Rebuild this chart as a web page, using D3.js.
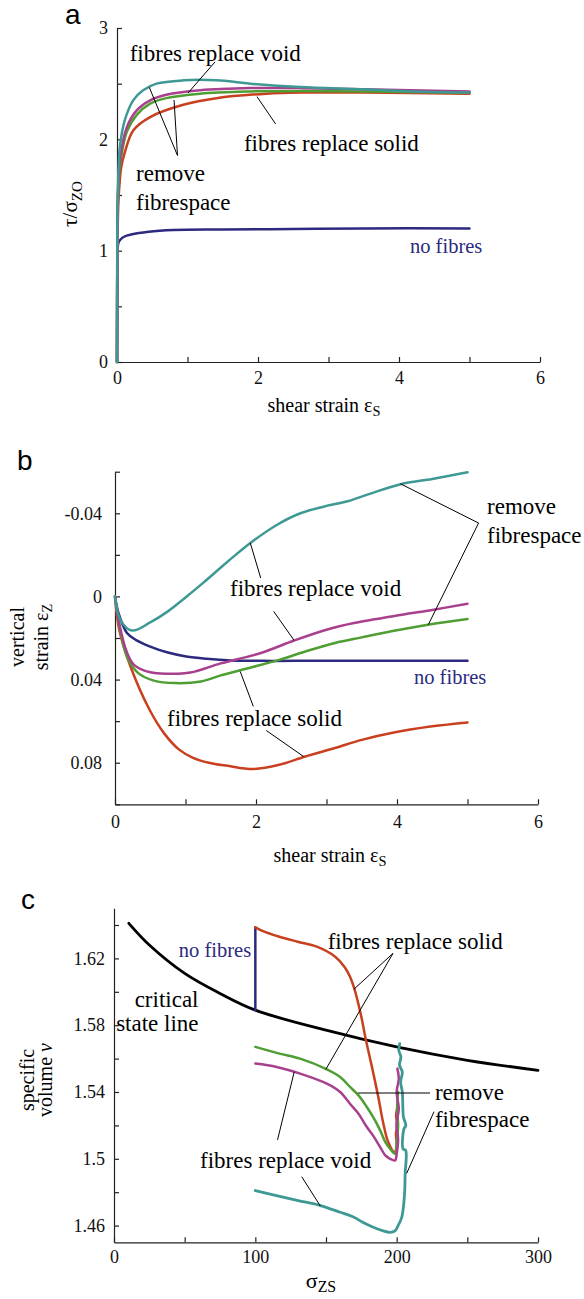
<!DOCTYPE html>
<html><head><meta charset="utf-8">
<script src="https://cdn.jsdelivr.net/npm/d3@7"></script>
<style>body{margin:0;background:#fff}svg{display:block}</style>
</head><body><svg id="chart" width="584" height="1299"></svg>
<script>
// ---------------- DATA ----------------
// Panel a: shear strain vs tau/sigma_zo
const aXTicks = [0,1,2,3,4,5,6];
const aXTickLabels = ["0","","2","","4","","6"];
const aYTicks = [0,0.5,1,1.5,2,2.5,3];
const aYTickLabels = ["0","","1","","2","","3"];
const aNavy = [[0,0],[0.004,0.6],[0.008,1.0],[0.02,1.07],[0.05,1.1],[0.1,1.125],[0.2,1.145],[0.45,1.17],[0.8,1.185],[1.5,1.19],[2.5,1.195],[3.5,1.2],[5,1.2]];
const aRed = [[0,0],[0.005,0.9],[0.015,1.35],[0.03,1.55],[0.06,1.75],[0.11,1.88],[0.23,2.08],[0.47,2.2],[0.94,2.31],[1.41,2.37],[2.12,2.41],[2.6,2.42],[3.5,2.42],[5,2.41]];
const aGreen = [[0,0],[0.005,1.0],[0.015,1.5],[0.04,1.75],[0.14,2.07],[0.28,2.22],[0.47,2.32],[0.7,2.37],[1.18,2.41],[1.89,2.43],[2.6,2.435],[3.5,2.43],[5,2.42]];
const aMagenta = [[0,0],[0.005,1.05],[0.015,1.55],[0.04,1.81],[0.14,2.11],[0.28,2.26],[0.47,2.35],[0.7,2.4],[1.18,2.44],[1.89,2.46],[2.6,2.46],[3.5,2.45],[5,2.43]];
const aTeal = [[0,0],[0.005,1.2],[0.02,1.7],[0.04,1.93],[0.11,2.17],[0.23,2.35],[0.37,2.44],[0.56,2.5],[0.94,2.53],[1.41,2.53],[1.89,2.5],[2.6,2.47],[3.5,2.45],[4.2,2.43],[5,2.42]];

// Panel b: shear strain vs vertical strain
const bXTicks = [0,1,2,3,4,5,6];
const bXTickLabels = ["0","","2","","4","","6"];
const bYTicks = [-0.06,-0.04,-0.02,0,0.02,0.04,0.06,0.08,0.1];
const bYTickLabels = ["","-0.04","","0","","0.04","","0.08",""];
const bNavy = [[0,0],[0.05,0.008],[0.17,0.0176],[0.3,0.021],[0.49,0.024],[0.75,0.027],[1.01,0.0289],[1.3,0.03],[1.65,0.0308],[2.1,0.031],[2.6,0.031],[3.5,0.031],[5,0.0309]];
const bRed = [[0,0],[0.06,0.016],[0.22,0.0337],[0.49,0.0545],[0.7,0.066],[0.91,0.0737],[1.1,0.0775],[1.33,0.08],[1.6,0.0815],[1.96,0.083],[2.33,0.081],[2.7,0.077],[3.12,0.0729],[3.5,0.069],[3.92,0.0657],[4.5,0.0625],[5,0.0606]];
const bGreen = [[0,0],[0.06,0.014],[0.17,0.0289],[0.33,0.0369],[0.55,0.0405],[0.86,0.0417],[1.22,0.0409],[1.5,0.038],[1.8,0.0353],[2.33,0.0305],[2.7,0.0265],[3.12,0.0224],[3.5,0.0197],[3.92,0.0168],[4.44,0.0136],[5,0.0109]];
const bMagenta = [[0,0],[0.06,0.013],[0.17,0.027],[0.27,0.0329],[0.5,0.0365],[0.75,0.0372],[1.07,0.0366],[1.5,0.0322],[2.07,0.0272],[2.54,0.0212],[3,0.016],[3.39,0.0128],[4.07,0.0088],[4.5,0.0065],[5,0.0035]];
const bTeal = [[0,0],[0.08,0.0115],[0.24,0.0164],[0.5,0.0125],[0.75,0.0072],[1.0,0.0005],[1.25,-0.0065],[1.6,-0.0168],[1.92,-0.0257],[2.3,-0.0345],[2.63,-0.04],[2.97,-0.0433],[3.3,-0.0458],[3.6,-0.0492],[4.05,-0.054],[4.5,-0.0565],[5,-0.0597]];

// Panel c: sigma_zs vs specific volume
const cXTicks = [0,50,100,150,200,250,300];
const cXTickLabels = ["0","","100","","200","","300"];
const cYTicks = [1.46,1.48,1.5,1.52,1.54,1.56,1.58,1.6,1.62,1.64];
const cYTickLabels = ["1.46","","1.5","","1.54","","1.58","","1.62",""];
const cCSL = [[10.5,1.641],[25,1.628],[50,1.611],[75,1.599],[100,1.589],[150,1.577],[200,1.567],[250,1.559],[300,1.553]];
const cNavy = [[100,1.589],[100,1.6386]];
const cRed = [[100,1.6386],[105,1.6365],[117,1.633],[130,1.63],[143.5,1.627],[156.5,1.621],[163,1.615],[167,1.609],[170,1.602],[175,1.585],[178,1.572],[182,1.557],[187,1.537],[190.6,1.521],[194,1.51],[198.5,1.504],[200,1.508],[199.5,1.515],[200.5,1.52],[199.6,1.526],[200.3,1.53]];
const cGreen = [[100,1.567],[117,1.563],[131.7,1.56],[150.6,1.5536],[160,1.549],[167,1.543],[173,1.538],[178.9,1.531],[184,1.524],[188.3,1.517],[192,1.51],[195.3,1.506],[198.9,1.503],[200,1.51],[201,1.52],[200.3,1.53],[201,1.54]];
const cMagenta = [[100,1.557],[115,1.555],[131.7,1.551],[150.6,1.545],[160,1.54],[167,1.533],[173,1.527],[178.9,1.519],[184,1.513],[188.3,1.507],[192,1.502],[195.3,1.5],[198.9,1.499],[200,1.503],[201,1.512],[199.8,1.52],[201.5,1.53],[200,1.54],[201.5,1.548],[200.5,1.554]];
const cTeal = [[100,1.481],[115,1.478],[130.3,1.475],[146,1.472],[160,1.468],[169.8,1.465],[176,1.462],[183.5,1.459],[190,1.457],[195.3,1.456],[199,1.457],[201,1.46],[203.6,1.465],[205.5,1.478],[206,1.491],[206.4,1.505],[204.5,1.506],[205.2,1.518],[206.5,1.52],[204.8,1.525],[204,1.54],[202.8,1.546],[204,1.552],[202,1.556],[203,1.561],[201.5,1.565],[202.2,1.569]];

// Annotations (text in data coordinates of each panel)
const aNotes = [
  {t:"fibres replace void", x:0.18, y:2.778},
  {t:"remove", x:0.27, y:1.698},
  {t:"fibrespace", x:0.27, y:1.44},
  {t:"fibres replace solid", x:1.8, y:1.97},
  {t:"no fibres", x:4.156, y:1.045, navy:true}
];
const aLeaders = [
  [[1.39,2.695],[1.007,2.416]],
  [[0.858,1.855],[0.458,2.467]],
  [[0.858,1.855],[0.809,2.353]],
  [[2.25,2.138],[1.986,2.383]]
];
const bNotes = [
  {t:"remove", x:5.277, y:-0.0433},
  {t:"fibrespace", x:5.277, y:-0.0297},
  {t:"fibres replace void", x:1.631, y:-0.004},
  {t:"fibres replace solid", x:0.738, y:0.0585},
  {t:"no fibres", x:4.241, y:0.0388, navy:true}
];
const bLeaders = [
  [[5.157,-0.0353],[4.048,-0.0542]],
  [[5.157,-0.0353],[4.444,0.0136]],
  [[1.919,-0.0257],[2.067,-0.00885]],
  [[2.251,0.0072],[2.542,0.0212]],
  [[1.962,0.0529],[1.776,0.0361]],
  [[2.146,0.0645],[2.674,0.077]]
];
const cNotes = [
  {t:"no fibres", x:45.9, y:1.625, navy:true},
  {t:"critical", x:59.8, y:1.596, end:true},
  {t:"state line", x:59.8, y:1.5815, end:true},
  {t:"fibres replace solid", x:151.2, y:1.6306},
  {t:"remove", x:227.1, y:1.54},
  {t:"fibrespace", x:227.1, y:1.5237},
  {t:"fibres replace void", x:60.9, y:1.4993}
];
const cLeaders = [
  [[197.4,1.623],[169.7,1.6015]],
  [[197.4,1.623],[149.9,1.5536]],
  [[223.6,1.5394],[172.6,1.5394]],
  [[226.4,1.5282],[207.1,1.4913]],
  [[115.7,1.5113],[127.5,1.552]],
  [[132.8,1.4893],[146,1.4717]]
];

// ---------------- STYLE ----------------
const SERIF = "'Liberation Serif','Times New Roman',serif";
const SANS = "'Liberation Sans',Arial,sans-serif";
const COL = {navy:"#2b2a7e", red:"#c8401f", green:"#4f9e33", magenta:"#a8408e", teal:"#3e9995", black:"#000"};

const svg = d3.select("#chart");

function panel(cfg) {
  const g = svg.append("g");
  const {x, y} = cfg;
  const yBottom = Math.max(...y.range());
  const xLeft = Math.min(...x.range());
  const gx = g.append("g").attr("transform", `translate(0,${yBottom})`)
    .call(d3.axisBottom(x).tickValues(cfg.xTicks).tickSize(-5).tickSizeOuter(0)
      .tickPadding(cfg.xPad).tickFormat((d,i) => cfg.xLabels[i]));
  const gy = g.append("g").attr("transform", `translate(${xLeft},0)`)
    .call(d3.axisLeft(y).tickValues(cfg.yTicks).tickSize(-5).tickSizeOuter(0)
      .tickPadding(cfg.yPad).tickFormat((d,i) => cfg.yLabels[i]));
  [gx, gy].forEach(a => {
    a.attr("font-family", SERIF).attr("font-size", 18);
    a.select(".domain").attr("stroke", "#222").attr("stroke-width", 1.2);
    a.selectAll(".tick line").attr("stroke", "#222").attr("stroke-width", 1.2);
    a.selectAll(".tick text").attr("fill", "#111");
  });
  const line = d3.line().x(d => x(d[0])).y(d => y(d[1])).curve(d3.curveCatmullRom.alpha(0.5));
  cfg.series.forEach(s => {
    g.append("path").datum(s.data).attr("d", line)
      .attr("fill", "none").attr("stroke", s.color).attr("stroke-width", s.w || 2.5)
      .attr("stroke-linejoin", "round").attr("stroke-linecap", "round");
  });
  cfg.leaders.forEach(l => {
    g.append("line").attr("x1", x(l[0][0])).attr("y1", y(l[0][1]))
      .attr("x2", x(l[1][0])).attr("y2", y(l[1][1]))
      .attr("stroke", "#000").attr("stroke-width", 1);
  });
  cfg.notes.forEach(n => {
    g.append("text").attr("x", x(n.x)).attr("y", y(n.y)).attr("dy", "0.35em")
      .attr("text-anchor", n.end ? "end" : "start")
      .attr("font-family", SERIF).attr("font-size", n.navy ? 20.5 : 23)
      .attr("fill", n.navy ? COL.navy : "#000").text(n.t);
  });
  return g;
}

function titleText(parts, cx, cy, rotate, size) {
  const t = svg.append("text")
    .attr("transform", `translate(${cx},${cy})` + (rotate ? " rotate(-90)" : ""))
    .attr("text-anchor", "middle").attr("dy", "0.35em")
    .attr("font-family", SERIF).attr("font-size", size).attr("fill", "#000");
  parts.forEach(p => {
    const ts = t.append("tspan").text(p.s);
    if (p.sub) ts.attr("font-size", size * 0.72).attr("dy", size * 0.2);
    if (p.it) ts.attr("font-style", "italic");
  });
}

function letter(s, x, y) {
  svg.append("text").attr("x", x).attr("y", y).attr("font-family", SANS)
    .attr("font-size", 28).attr("fill", "#000").text(s);
}

// ---------------- PANEL A ----------------
const xa = d3.scaleLinear().domain([0,6]).range([117,540]);
const ya = d3.scaleLinear().domain([0,3]).range([362,28]);
panel({x:xa, y:ya, xTicks:aXTicks, xLabels:aXTickLabels, yTicks:aYTicks, yLabels:aYTickLabels, xPad:9, yPad:9,
  series:[{data:aNavy,color:COL.navy},{data:aRed,color:COL.red},{data:aGreen,color:COL.green},
          {data:aMagenta,color:COL.magenta},{data:aTeal,color:COL.teal}],
  leaders:aLeaders, notes:aNotes});
letter("a", 65, 24);
titleText([{s:"τ/σ"},{s:"ZO",sub:true}], 70, 204, true, 21);
titleText([{s:"shear strain ε"},{s:"S",sub:true}], 324, 405, false, 20);

// ---------------- PANEL B ----------------
const xb = d3.scaleLinear().domain([0,6]).range([115,538]);
const yb = d3.scaleLinear().domain([-0.06,0.1]).range([471.7,804.3]);
panel({x:xb, y:yb, xTicks:bXTicks, xLabels:bXTickLabels, yTicks:bYTicks, yLabels:bYTickLabels, xPad:10.5, yPad:13,
  series:[{data:bNavy,color:COL.navy},{data:bRed,color:COL.red},{data:bGreen,color:COL.green},
          {data:bMagenta,color:COL.magenta},{data:bTeal,color:COL.teal}],
  leaders:bLeaders, notes:bNotes});
letter("b", 17, 470);
titleText([{s:"vertical"}], 17, 637, true, 20);
titleText([{s:"strain ε"},{s:"Z",sub:true}], 41, 637, true, 20);
titleText([{s:"shear strain ε"},{s:"S",sub:true}], 330, 855, false, 20);

// ---------------- PANEL C ----------------
const xc = d3.scaleLinear().domain([0,300]).range([114,538]);
const yc = d3.scaleLinear().domain([1.45,1.65]).range([1242.3,908.3]);
panel({x:xc, y:yc, xTicks:cXTicks, xLabels:cXTickLabels, yTicks:cYTicks, yLabels:cYTickLabels, xPad:7.5, yPad:9,
  series:[{data:cCSL,color:COL.black,w:2.8},{data:cNavy,color:COL.navy},{data:cRed,color:COL.red},
          {data:cGreen,color:COL.green},{data:cMagenta,color:COL.magenta},{data:cTeal,color:COL.teal,w:2.8}],
  leaders:cLeaders, notes:cNotes});
letter("c", 21, 909);
titleText([{s:"specific"}], 27, 1080, true, 20);
titleText([{s:"volume "},{s:"v",it:true}], 45, 1080, true, 20);
titleText([{s:"σ"},{s:"ZS",sub:true}], 321, 1280, false, 22);
</script></body></html>
